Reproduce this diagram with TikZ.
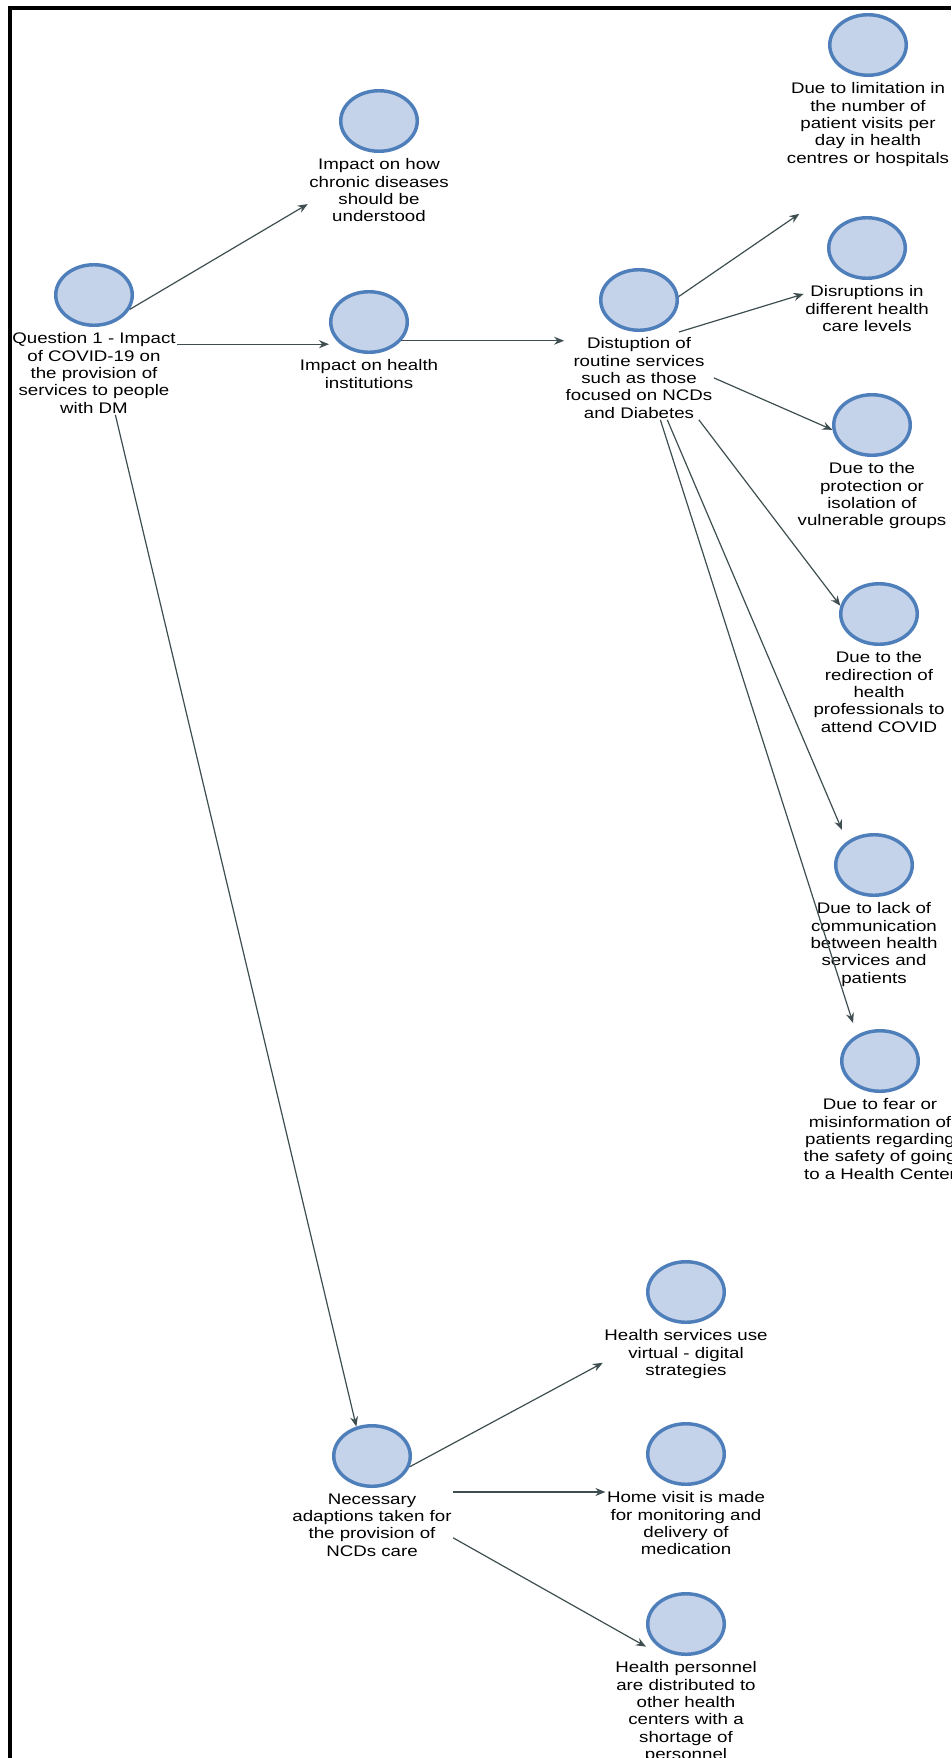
\documentclass[tikz,border=0pt]{standalone}
\usepackage{fontspec}
\newfontfamily\cmapfont[FakeStretch=1.22]{Liberation Sans}
\usetikzlibrary{positioning,shapes.geometric,arrows.meta}
\definecolor{conceptfill}{RGB}{196,211,233}
\definecolor{conceptline}{RGB}{79,127,187}
\definecolor{linkcolor}{RGB}{62,78,80}
\begin{document}
\begin{tikzpicture}[x=0.75pt,y=0.75pt,
  concept/.style={ellipse, draw=conceptline, fill=conceptfill, line width=2.6pt,
    minimum width=57.4pt, minimum height=45.4pt, inner sep=0pt},
  concepttext/.style={font={\cmapfont\fontsize{11.5}{13}\selectfont}, align=center, inner sep=1pt},
  link/.style={draw=linkcolor, line width=0.9pt, -{Stealth[length=7.5pt,width=6pt]}}]
  \useasboundingbox (0,0) rectangle (951,-1758);
  \clip (0,0) rectangle (951,-1758);

  %% frame
  \draw[line width=3pt] (10,-1758) -- (10,-8.5) -- (951,-8.5);

  %% question
  \node[concept] (q1) at (94,-295) {};
  \node[concepttext, below=3pt of q1] (q1t) {Question 1 - Impact\\of COVID-19 on\\the provision of\\services to people\\with DM};

  %% first level
  \node[concept] (chr) at (379,-121) {};
  \node[concepttext, below=3pt of chr] (chrt) {Impact on how\\chronic diseases\\should be\\understood};
  \node[concept] (inst) at (369,-322) {};
  \node[concepttext, below=3pt of inst] (instt) {Impact on health\\institutions};
  \node[concept] (nec) at (372,-1456) {};
  \node[concepttext, below=3pt of nec] (nect) {Necessary\\adaptions taken for\\the provision of\\NCDs care};

  %% disruption
  \node[concept] (dis) at (639,-300) {};
  \node[concepttext, below=3pt of dis] (dist) {Distuption of\\routine services\\such as those\\focused on NCDs\\and Diabetes};

  %% reasons
  \node[concept] (lim) at (868,-45) {};
  \node[concepttext, below=3pt of lim] (limt) {Due to limitation in\\the number of\\patient visits per\\day in health\\centres or hospitals};
  \node[concept] (lvl) at (867,-248) {};
  \node[concepttext, below=3pt of lvl] (lvlt) {Disruptions in\\different health\\care levels};
  \node[concept] (prot) at (872,-425) {};
  \node[concepttext, below=3pt of prot] (prott) {Due to the\\protection or\\isolation of\\vulnerable groups};
  \node[concept] (redir) at (879,-614) {};
  \node[concepttext, below=3pt of redir] (redirt) {Due to the\\redirection of\\health\\professionals to\\attend COVID};
  \node[concept] (comm) at (874,-865) {};
  \node[concepttext, below=3pt of comm] (commt) {Due to lack of\\communication\\between health\\services and\\patients};
  \node[concept] (fear) at (880,-1061) {};
  \node[concepttext, below=3pt of fear] (feart) {Due to fear or\\misinformation of\\patients regarding\\the safety of going\\to a Health Center};

  %% adaptions
  \node[concept] (dig) at (686,-1292) {};
  \node[concepttext, below=3pt of dig] (digt) {Health services use\\virtual - digital\\strategies};
  \node[concept] (home) at (686,-1454) {};
  \node[concepttext, below=3pt of home] (homet) {Home visit is made\\for monitoring and\\delivery of\\medication};
  \node[concept] (pers) at (686,-1624) {};
  \node[concepttext, below=3pt of pers] (perst) {Health personnel\\are distributed to\\other health\\centers with a\\shortage of\\personnel};

  %% links
  \draw[link] (q1.-22) -- (chrt.191);
  \draw[link] (q1t.19) -- (q1t.19 -| inst.west);
  \draw[link] (q1t.-63) -- (nec.118);
  \draw[link] (inst.-30) -- (inst.-30 -| dist.west);
  \draw[link] (dis.5) -- ([shift={(14,-46)}]limt.south west);
  \draw[link] (dis.east |- dis.south) -- (lvlt.167);
  \draw[link] (dist.east) -- (prot.187);
  \draw[link] (dist.-35) -- (redir.168);
  \draw[link] (dist.-56) -- ([shift={(-32,3)}]comm.north);
  \draw[link] (dist.-63) -- ([shift={(-27,6)}]fear.north);
  \draw[link] (nec.-16) -- (digt.186);
  \draw[link] (nect.north east) -- (nect.north east -| homet.west);
  \draw[link] (nect.-9) -- (pers.south west -| pers.west);

\end{tikzpicture}
\end{document}
